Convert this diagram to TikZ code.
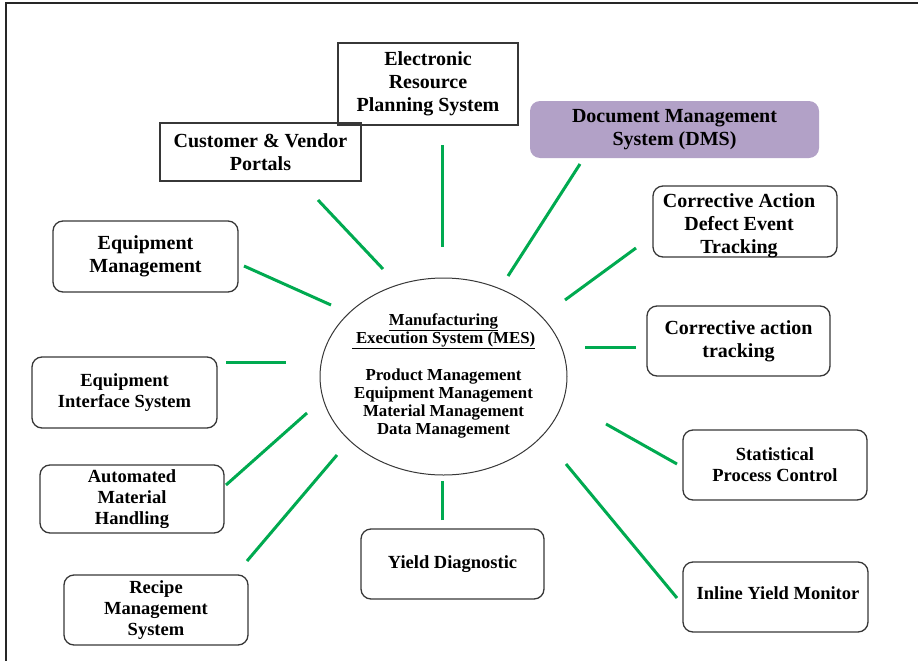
\documentclass[tikz,border=0pt]{standalone}
\usepackage{fontspec}
\setmainfont{Liberation Serif}
\usetikzlibrary{shapes.geometric}
\definecolor{linegreen}{RGB}{0,170,80}
\definecolor{boxgray}{RGB}{55,55,55}
\definecolor{dmsfill}{RGB}{178,161,199}
\newcommand\bigtxt{\fontsize{20}{23}\selectfont\bfseries}
\newcommand\smalltxt{\fontsize{18.5}{21}\selectfont\bfseries}
\newcommand\elltxt{\fontsize{16.8}{18.3}\selectfont\bfseries}
\tikzset{
  sqbox/.style={draw=boxgray, line width=1.3pt, inner sep=0pt, align=center, font=\bigtxt},
  rbox/.style={sqbox, rounded corners=10pt},
  rboxs/.style={rbox, font=\smalltxt},
  link/.style={draw=linegreen, line width=3pt},
}
\begin{document}
\begin{tikzpicture}[x=1pt,y=-1pt]
\useasboundingbox (0,0) rectangle (918,661);
% frame
\draw[line width=1.5pt, black!85] (918,3) -- (6,3) -- (6,661);

% central ellipse
\node[ellipse, draw=boxgray, line width=1pt, inner sep=0pt, minimum width=247pt, minimum height=197pt,
  label={[font=\elltxt, align=center, inner sep=0pt, yshift=0.5pt]center:\underline{Manufacturing}\\\underline{\ Execution System (MES)}\\[18.3pt]Product Management\\Equipment Management\\Material Management\\Data Management}] (mes) at (443.5,376.5) {};

% boxes
\node[sqbox, minimum width=180pt, minimum height=82pt] (erp) at (428,84) {Electronic\\Resource\\Planning System};
\node[sqbox, minimum width=201pt, minimum height=58pt] (cust) at (260.5,152) {Customer \& Vendor\\Portals};
\node[rbox, draw=none, fill=dmsfill, minimum width=289pt, minimum height=57pt] (dms) at (674.5,129.5) {Document Management\\System (DMS)};
\node[rbox, minimum width=184pt, minimum height=71pt,
  label={[font=\bigtxt, align=center, inner sep=0pt, xshift=-6pt, yshift=-4.5pt]center:Corrective Action\\Defect Event\\Tracking}] (cadet) at (745,221.5) {};
\node[rbox, minimum width=185pt, minimum height=71pt] (eqm) at (145.5,256.5) {Equipment\\Management};
\node[rbox, minimum width=183pt, minimum height=70pt] (cat) at (738.5,341) {Corrective action\\tracking};
\node[rboxs, minimum width=185pt, minimum height=71pt] (eis) at (124.5,392.5) {Equipment\\Interface System};
\node[rboxs, minimum width=184pt, minimum height=70pt] (spc) at (775,465) {Statistical\\Process Control};
\node[rboxs, minimum width=184pt, minimum height=68pt] (amh) at (132,499) {Automated\\Material\\Handling};
\node[rboxs, minimum width=183pt, minimum height=70pt] (yd) at (452.5,564) {Yield Diagnostic};
\node[rboxs, minimum width=185pt, minimum height=70pt,
  label={[font=\smalltxt, inner sep=0pt, xshift=2.5pt, yshift=4pt]center:Inline Yield Monitor}] (iym) at (775.5,597) {};
\node[rboxs, minimum width=184pt, minimum height=70pt] (rms) at (156,610) {Recipe\\Management\\System};

% connector end points
\coordinate (erpA) at (442,145);  \coordinate (erpB) at (442,247);
\coordinate (custA) at (318,200); \coordinate (custB) at (383,269);
\coordinate (dmsA) at (580,164);  \coordinate (dmsB) at (508,276);
\coordinate (cadA) at (636,248);  \coordinate (cadB) at (565,300);
\coordinate (eqmA) at (244,266);  \coordinate (eqmB) at (331,305);
\coordinate (catA) at (636,347);  \coordinate (catB) at (585,347);
\coordinate (eisA) at (226,362);  \coordinate (eisB) at (286,362);
\coordinate (amhA) at (226,485);  \coordinate (amhB) at (307,413);
\coordinate (rmsA) at (247,561);  \coordinate (rmsB) at (337,455);
\coordinate (ydA) at (442,520);   \coordinate (ydB) at (442,481);
\coordinate (spcA) at (677,464);  \coordinate (spcB) at (606,424);
\coordinate (iymA) at (677,598);  \coordinate (iymB) at (566,464);

\foreach \n in {erp,cust,dms,cad,eqm,cat,eis,amh,rms,yd,spc,iym}
  \draw[link] (\n A) -- (\n B);
\end{tikzpicture}
\end{document}
